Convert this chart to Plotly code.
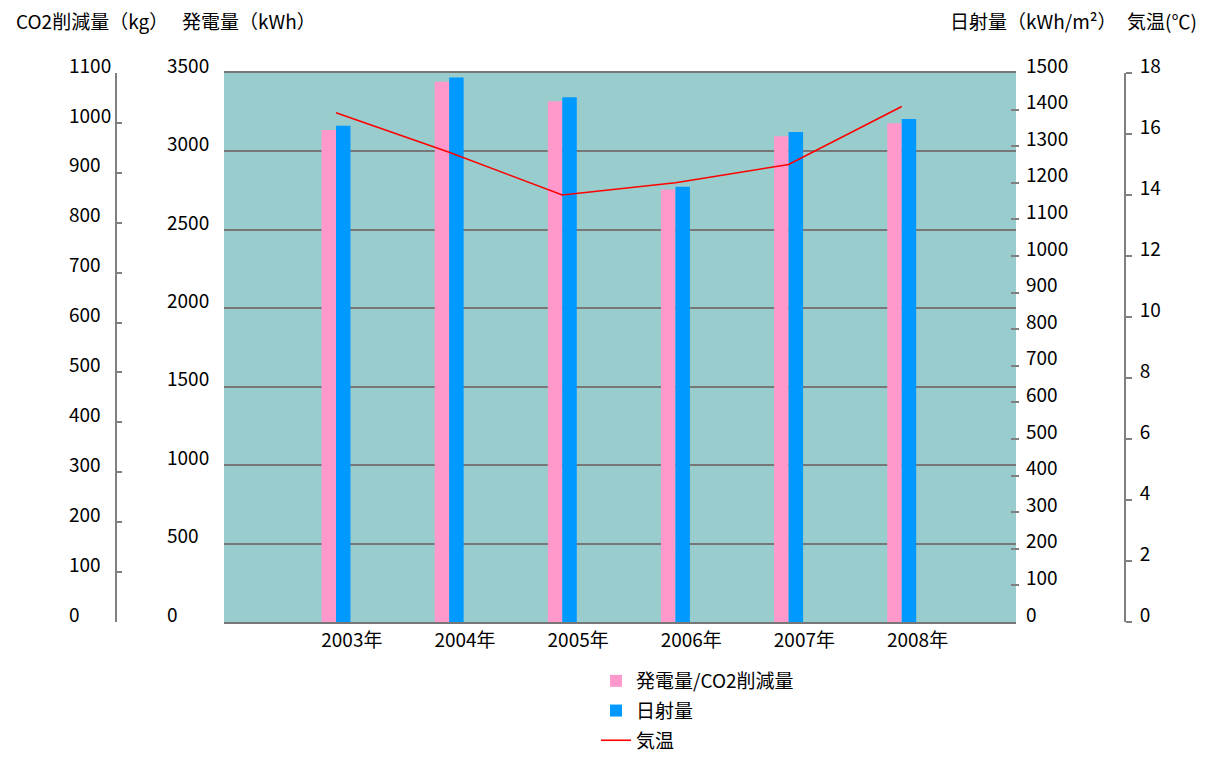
import plotly.graph_objects as go

# Yearly data
years = ["2003", "2004", "2005", "2006", "2007", "2008"]
generation_kwh = [3137, 3444, 3320, 2758, 3096, 3179]      # 発電量 (kWh)
irradiation = [1356, 1488, 1434, 1189, 1339, 1374]         # 日射量 (kWh/m²)
temperature = [16.7, 15.4, 14.0, 14.4, 15.0, 16.9]         # 気温 (℃)

year_labels = [y + "年" for y in years]
idx = list(range(len(years)))

W, H = 1212, 757
FONT = "Noto Sans CJK JP"
GRAY = "#808080"
GRID = "#777777"
PINK = "#FF99CC"
BLUE = "#0099FF"
TEAL = "#99CCCC"

def px(x):
    return x / W

y_dom = [1 - 622 / H, 1 - 73 / H]
bar_w = 0.128
LABEL_SHIFT = -7   # raise tick labels slightly above their ticks

fig = go.Figure()

fig.add_trace(go.Bar(
    x=idx, y=generation_kwh, name="発電量/CO2削減量", legendgroup="a",
    marker=dict(color=PINK, line=dict(width=0)),
    width=bar_w, offset=-bar_w, yaxis="y",
))
fig.add_trace(go.Bar(
    x=idx, y=irradiation, name="日射量", legendgroup="b",
    marker=dict(color=BLUE, line=dict(width=0)),
    width=bar_w, offset=0, yaxis="y4",
))
fig.add_trace(go.Scatter(
    x=idx, y=temperature, name="気温", mode="lines", legendgroup="c",
    line=dict(color="#FF0000", width=1.6), yaxis="y5",
))
# empty traces so the CO2 scale axes are rendered
for ax in ("y2", "y3"):
    fig.add_trace(go.Scatter(x=[], y=[], yaxis=ax, showlegend=False,
                             hoverinfo="skip", mode="lines"))

tick_font = dict(family=FONT, size=19, color="#000000")

fig.update_layout(
    width=W, height=H,
    margin=dict(l=0, r=0, t=0, b=0, autoexpand=False),
    paper_bgcolor="white",
    plot_bgcolor=TEAL,
    barmode="overlay",
    font=dict(family=FONT, size=19, color="#000000"),
    xaxis=dict(
        domain=[px(224), px(1016)],
        range=[-0.99, 6.01],
        tickvals=[i + 0.14 for i in idx],
        ticktext=year_labels,
        showgrid=False, zeroline=False,
        showline=True, mirror=True, linecolor=GRID, linewidth=2,
        ticks="", tickfont=tick_font, fixedrange=True, automargin=False,
        ticklabelstandoff=0,
    ),
    # 発電量 axis: grid lines, labels left-aligned to the left of the plot
    yaxis=dict(
        domain=y_dom, range=[0, 3500], dtick=500,
        showgrid=True, gridcolor=GRID, gridwidth=2,
        zeroline=False, showline=False, ticks="",
        anchor="free", position=px(166), side="right",
        tickfont=tick_font, ticklabelshift=LABEL_SHIFT, ticklabelstandoff=0,
        automargin=False,
    ),
    # CO2削減量 axis line and ticks
    yaxis2=dict(
        overlaying="y", range=[0, 1100], dtick=100,
        anchor="free", position=px(116), side="left",
        showline=True, linecolor=GRAY, linewidth=2,
        ticks="inside", ticklen=5, tickcolor=GRAY, tickwidth=2,
        showticklabels=False, showgrid=False, zeroline=False,
        automargin=False,
    ),
    # CO2削減量 labels
    yaxis3=dict(
        overlaying="y", range=[0, 1100], dtick=100,
        anchor="free", position=px(68), side="right",
        showline=False, ticks="", showgrid=False, zeroline=False,
        tickfont=tick_font, ticklabelshift=LABEL_SHIFT, ticklabelstandoff=0,
        automargin=False,
    ),
    # 日射量 axis
    yaxis4=dict(
        overlaying="y", range=[0, 1500], dtick=100,
        anchor="free", position=px(1019), side="right",
        showline=False, ticks="inside", ticklen=8, tickcolor=GRAY, tickwidth=2,
        showgrid=False, zeroline=False,
        tickfont=tick_font, ticklabelshift=LABEL_SHIFT, ticklabelstandoff=6,
        automargin=False,
    ),
    # 気温 axis
    yaxis5=dict(
        overlaying="y", range=[0, 18], dtick=2,
        anchor="free", position=px(1125), side="right",
        showline=True, linecolor=GRAY, linewidth=2,
        ticks="outside", ticklen=6, tickcolor=GRAY, tickwidth=2,
        showgrid=False, zeroline=False,
        tickfont=tick_font, ticklabelshift=LABEL_SHIFT, ticklabelstandoff=4,
        automargin=False,
    ),
    showlegend=True,
    legend=dict(
        x=px(596), y=1 - 662 / H, xanchor="left", yanchor="top",
        font=dict(family=FONT, size=19, color="#000000"),
        bgcolor="rgba(0,0,0,0)", borderwidth=0,
        traceorder="grouped", tracegroupgap=2,
    ),
)

titles = [
    ("CO2削減量（kg）", 14),
    ("発電量（kWh）", 180),
    ("日射量（kWh/m²）", 948),
    ("気温(℃)", 1125),
]
for text, x0 in titles:
    fig.add_annotation(
        text=text, x=px(x0), y=1 - 20 / H, xref="paper", yref="paper",
        xanchor="left", yanchor="middle", showarrow=False,
        font=dict(family=FONT, size=19, color="#000000"),
    )

fig.write_html("out.html")
